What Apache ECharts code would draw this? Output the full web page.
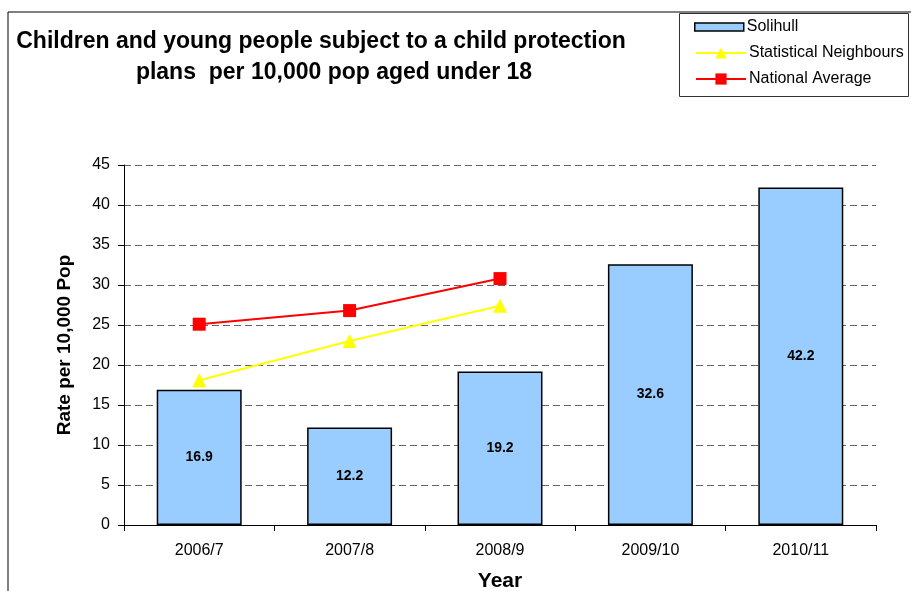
<!DOCTYPE html>
<html>
<head>
<meta charset="utf-8">
<script src="https://cdn.jsdelivr.net/npm/echarts@6/dist/echarts.min.js"></script>
<style>
  html, body { margin: 0; padding: 0; background: #fff; overflow: hidden; }
  #chart { width: 911px; height: 591px; }
</style>
</head>
<body>
<div id="chart"></div>
<script>
// Child protection plan rates per 10,000 population aged under 18
const years = ['2006/7', '2007/8', '2008/9', '2009/10', '2010/11'];
const solihull = [16.9, 12.2, 19.2, 32.6, 42.2];
const statNeighbours = [18.1, 23.0, 27.4, null, null];
const nationalAverage = [25.1, 26.8, 30.8, null, null];

const FONT = '"Liberation Sans", Arial, sans-serif';

const chart = echarts.init(document.getElementById('chart'), null, { renderer: 'canvas' });

chart.setOption({
  backgroundColor: '#fff',
  animation: false,
  textStyle: { fontFamily: FONT, color: '#000' },
  graphic: [
    // outer chart frame
    { type: 'rect', shape: { x: 8, y: 12, width: 920, height: 600 },
      style: { fill: 'none', stroke: '#000', lineWidth: 1 }, z: 0 },
    // legend box
    { type: 'rect', shape: { x: 679.5, y: 13.5, width: 229, height: 83 },
      style: { fill: '#fff', stroke: '#333', lineWidth: 1 }, z: 1 },
    // title, two centred lines
    { type: 'text', z: 5,
      style: { text: 'Children and young people subject to a child protection', x: 321, y: 42,
               textAlign: 'center', textVerticalAlign: 'middle', font: 'bold 23px ' + FONT, fill: '#000' } },
    { type: 'text', z: 5,
      style: { text: 'plans  per 10,000 pop aged under 18', x: 334, y: 73,
               textAlign: 'center', textVerticalAlign: 'middle', font: 'bold 23px ' + FONT, fill: '#000' } }
  ],
  legend: [
    {
      data: ['Solihull'],
      left: 694, top: 19,
      itemWidth: 49, itemHeight: 8,
      itemGap: 0,
      icon: 'rect',
      padding: 0,
      textStyle: { fontSize: 16, fontFamily: FONT, color: '#000', padding: [0, 0, 0, -2] },
      itemStyle: { borderColor: '#000', borderWidth: 1.5 },
      z: 10
    },
    {
      data: ['Statistical Neighbours', 'National Average'],
      orient: 'vertical',
      left: 695, top: 45,
      itemWidth: 50, itemHeight: 14,
      itemGap: 10,
      padding: 0,
      textStyle: { fontSize: 16, fontFamily: FONT, color: '#000', padding: [0, 0, 0, -2] },
      z: 10
    }
  ],
  grid: { left: 124, right: 35, top: 165, bottom: 66, containLabel: false, outerBoundsMode: 'none' },
  xAxis: {
    type: 'category',
    data: years,
    boundaryGap: true,
    name: 'Year',
    nameLocation: 'middle',
    nameGap: 46,
    nameTextStyle: { fontSize: 21, fontWeight: 'bold', color: '#000', fontFamily: FONT },
    axisLine: { lineStyle: { color: '#000', width: 1 } },
    axisTick: { show: true, length: 6, lineStyle: { color: '#000' } },
    axisLabel: { fontSize: 16, color: '#000', margin: 18, fontFamily: FONT }
  },
  yAxis: {
    type: 'value',
    min: 0, max: 45, interval: 5,
    name: 'Rate per 10,000 Pop',
    nameLocation: 'middle',
    nameRotate: 90,
    nameGap: 50,
    nameTextStyle: { fontSize: 19, fontWeight: 'bold', color: '#000', fontFamily: FONT },
    axisLine: { show: true, lineStyle: { color: '#000', width: 1 } },
    axisTick: { show: true, inside: false, length: 6, lineStyle: { color: '#000' } },
    axisLabel: { fontSize: 16, color: '#000', margin: 14, fontFamily: FONT },
    splitLine: { show: true, lineStyle: { color: '#666', type: [7, 4], width: 1.2 } }
  },
  series: [
    {
      name: 'Solihull',
      type: 'bar',
      data: solihull,
      barWidth: '56.5%',
      itemStyle: { color: '#99CCFF', borderColor: '#000', borderWidth: 1.5 },
      label: {
        show: true, position: 'inside',
        fontSize: 14, fontWeight: 'bold', color: '#000', fontFamily: FONT,
        formatter: p => p.value.toFixed(1)
      },
      z: 2
    },
    {
      name: 'Statistical Neighbours',
      type: 'line',
      data: statNeighbours,
      symbol: 'triangle',
      symbolSize: 14,
      lineStyle: { color: '#FFFF00', width: 2 },
      itemStyle: { color: '#FFFF00' },
      z: 3
    },
    {
      name: 'National Average',
      type: 'line',
      data: nationalAverage,
      symbol: 'rect',
      symbolSize: 13,
      lineStyle: { color: '#FF0000', width: 2 },
      itemStyle: { color: '#FF0000' },
      z: 3
    }
  ]
});
</script>
</body>
</html>
